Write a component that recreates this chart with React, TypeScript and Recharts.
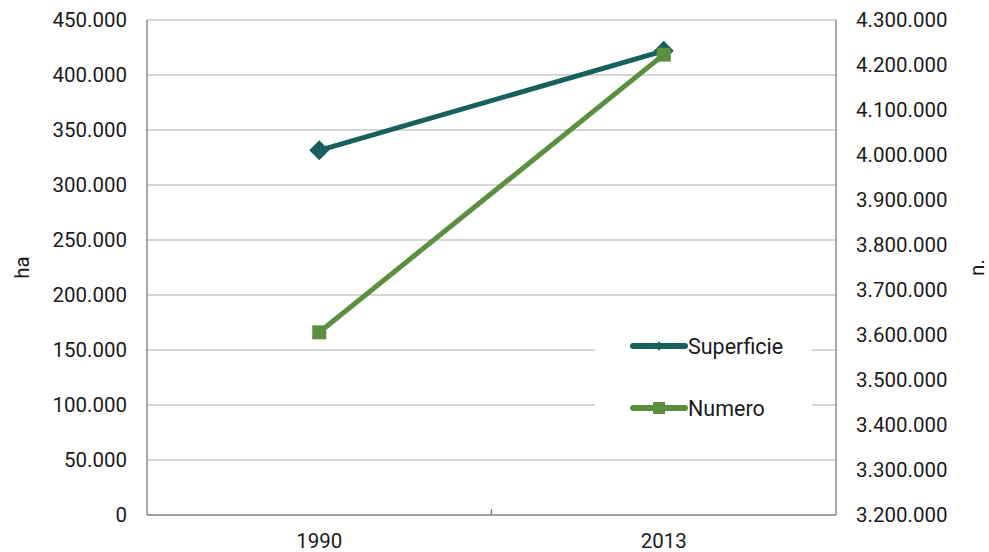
import React from 'react';
import { ComposedChart, Line, XAxis, YAxis, CartesianGrid, Legend, ReferenceLine } from 'recharts';

const categories = ['1990', '2013'];
const superficie = [331500, 422000];
const numero = [3606000, 4223000];
const leftTicks = [0, 50000, 100000, 150000, 200000, 250000, 300000, 350000, 400000, 450000];
const rightTicks = [3200000, 3300000, 3400000, 3500000, 3600000, 3700000, 3800000, 3900000, 4000000, 4100000, 4200000, 4300000];
const seriesNames = ['Superficie', 'Numero'];

const data = categories.map((c, i) => ({ year: c, superficie: superficie[i], numero: numero[i] }));

const TEAL = '#17605B';
const GREEN = '#5B8F3F';
const FONT = 'Roboto, "Noto Sans", sans-serif';
const FS = 20.5;

const fmt = (v: number) => String(v).replace(/\B(?=(\d{3})+(?!\d))/g, '.');

const DiamondDot = (props: any) => {
  const { cx, cy } = props;
  if (cx == null || cy == null) return null;
  const r = 10;
  return <path d={`M${cx},${cy - r}L${cx + r},${cy}L${cx},${cy + r}L${cx - r},${cy}Z`} fill={TEAL} />;
};
const SquareDot = (props: any) => {
  const { cx, cy } = props;
  if (cx == null || cy == null) return null;
  const s = 14;
  return <rect x={cx - s / 2} y={cy - s / 2} width={s} height={s} fill={GREEN} />;
};

const renderLegend = () => (
  <div style={{ position: 'relative', width: 217, height: 122, background: '#fff', fontFamily: FONT }}>
    {seriesNames.map((name, i) => {
      const color = i === 0 ? TEAL : GREEN;
      const top = i === 0 ? 28 : 90;
      return (
        <div key={name} style={{ position: 'absolute', left: 35, top: top - 12, height: 24, display: 'flex', alignItems: 'center', whiteSpace: 'nowrap' }}>
          <svg width={58} height={24} style={{ display: 'block' }}>
            <line x1={3} y1={12} x2={55} y2={12} stroke={color} strokeWidth={6} strokeLinecap="round" />
            {i === 0 ? (
              <path d="M29,7.5L33.5,12L29,16.5L24.5,12Z" fill={color} />
            ) : (
              <rect x={23} y={6} width={12} height={12} fill={color} />
            )}
          </svg>
          <span style={{ fontSize: 21.5, color: '#1a1a1a' }}>{name}</span>
        </div>
      );
    })}
  </div>
);

export default function App() {
  return (
    <div style={{ position: 'absolute', left: 0, top: 0, width: 989, height: 552, background: '#fff' }}>
      <ComposedChart width={989} height={552} data={data} margin={{ top: 20, right: 0, bottom: 0, left: 0 }}>
        <CartesianGrid yAxisId="left" vertical={false} stroke="#c8c8c8" strokeWidth={1.5} />
        <XAxis
          dataKey="year"
          type="category"
          scale="band"
          height={37}
          tickLine={false}
          tickSize={0}
          tickMargin={18}
          axisLine={{ stroke: '#8c8c8c', strokeWidth: 1.5 }}
          tick={{ fill: '#1a1a1a', fontSize: FS, fontFamily: FONT }}
        />
        <YAxis
          yAxisId="left"
          width={147}
          domain={[0, 450000]}
          ticks={leftTicks}
          tickFormatter={fmt}
          tickLine={false}
          tickSize={0}
          tickMargin={20}
          axisLine={{ stroke: '#8c8c8c', strokeWidth: 1.5 }}
          tick={{ fill: '#1a1a1a', fontSize: FS, fontFamily: FONT }}
          label={{ value: 'ha', angle: -90, position: 'center', dx: -52, fill: '#1a1a1a', fontSize: FS, fontFamily: FONT }}
        />
        <YAxis
          yAxisId="right"
          orientation="right"
          width={153}
          domain={[3200000, 4300000]}
          ticks={rightTicks}
          tickFormatter={fmt}
          tickLine={false}
          tickSize={0}
          tickMargin={20}
          axisLine={{ stroke: '#8c8c8c', strokeWidth: 1.5 }}
          tick={{ fill: '#1a1a1a', fontSize: FS, fontFamily: FONT }}
          label={{ value: 'n.', angle: -90, position: 'center', dx: 64, fill: '#1a1a1a', fontSize: FS, fontFamily: FONT }}
        />
        <ReferenceLine
          yAxisId="left"
          segment={[{ x: categories[1], y: 0 }, { x: categories[1], y: 5500 }]}
          position="start"
          ifOverflow="visible"
          stroke="#8c8c8c"
          strokeWidth={1.5}
        />
        <Legend
          layout="vertical"
          align="center"
          verticalAlign="middle"
          content={renderLegend}
          wrapperStyle={{ position: 'absolute', left: 595, top: 318, width: 217, height: 122 }}
        />
        <Line
          yAxisId="left"
          dataKey="superficie"
          name={seriesNames[0]}
          stroke={TEAL}
          strokeWidth={5}
          dot={<DiamondDot />}
          activeDot={false}
          isAnimationActive={false}
        />
        <Line
          yAxisId="right"
          dataKey="numero"
          name={seriesNames[1]}
          stroke={GREEN}
          strokeWidth={5}
          dot={<SquareDot />}
          activeDot={false}
          isAnimationActive={false}
        />
      </ComposedChart>
    </div>
  );
}
